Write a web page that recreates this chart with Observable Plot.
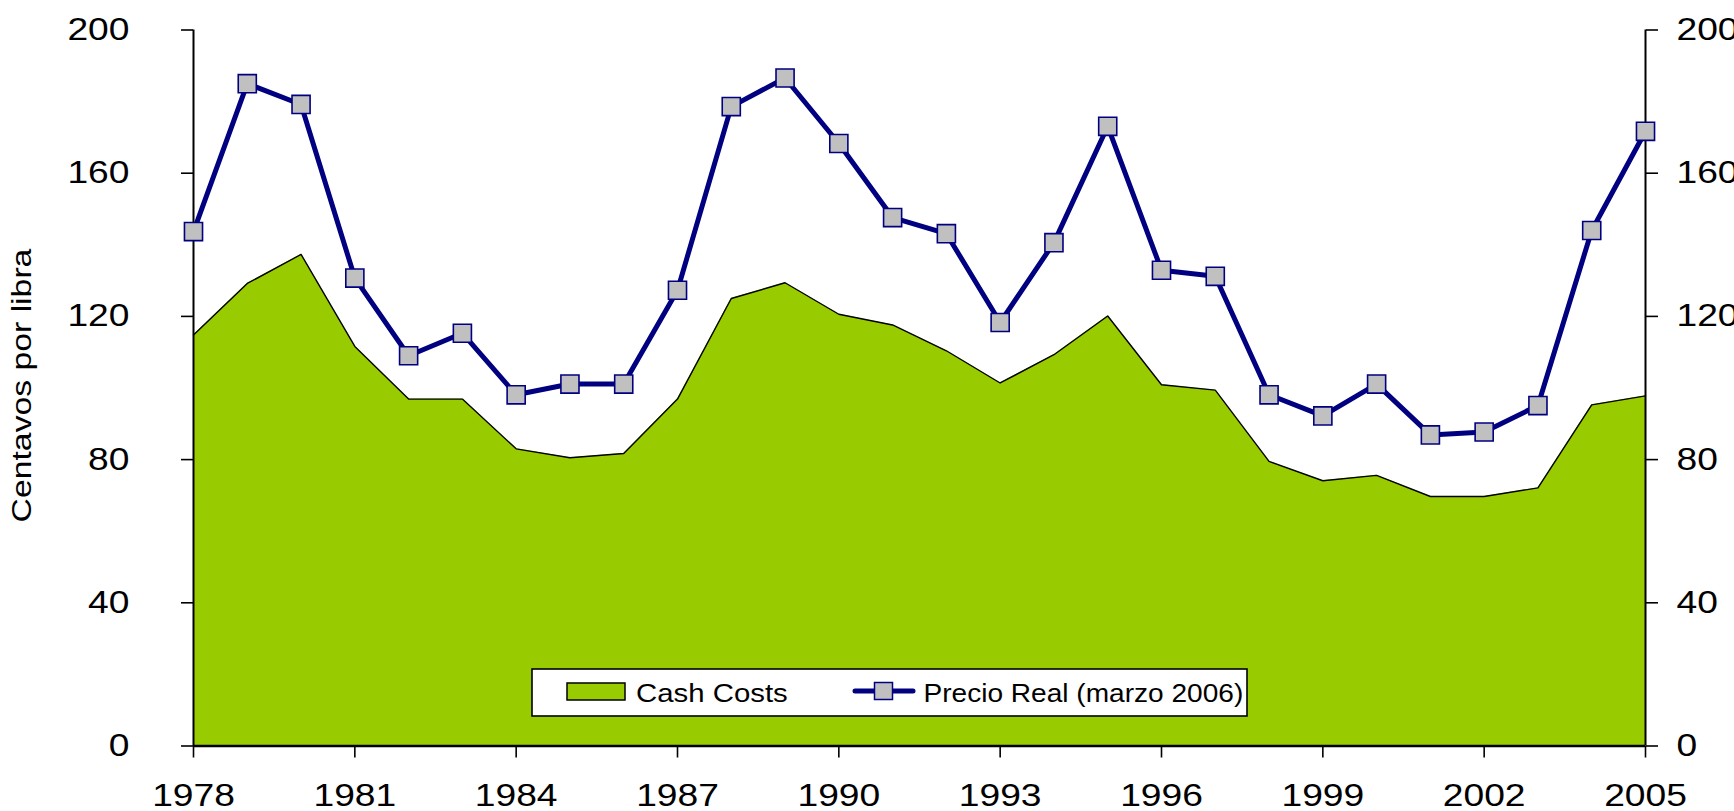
<!DOCTYPE html>
<html>
<head>
<meta charset="utf-8">
<script src="https://cdn.jsdelivr.net/npm/d3@7"></script>
<script src="https://cdn.jsdelivr.net/npm/@observablehq/plot@0.6"></script>
<style>
  html, body { margin: 0; padding: 0; background: #fff; }
  #chart svg { display: block; }
</style>
</head>
<body>
<div id="chart"></div>
<script>
const years = [1978,1979,1980,1981,1982,1983,1984,1985,1986,1987,1988,1989,1990,1991,1992,1993,1994,1995,1996,1997,1998,1999,2000,2001,2002,2003,2004,2005];
const cashCosts = [114.8,129.2,137.3,111.6,96.9,96.9,83.0,80.5,81.7,96.9,125.0,129.4,120.6,117.6,110.4,101.4,109.3,120.1,100.9,99.4,79.5,74.1,75.6,69.7,69.7,72.1,95.3,97.8];
const precioReal = [143.7,185.0,179.2,130.7,109.0,115.3,98.1,101.1,101.1,127.3,178.6,186.6,168.3,147.6,143.1,118.3,140.6,173.1,132.9,131.2,98.1,92.2,101.1,86.9,87.7,95.1,144.0,171.7];
const xTicks = [1978,1981,1984,1987,1990,1993,1996,1999,2002,2005];
const yTicks = [0,40,80,120,160,200];
const yTitle = "Centavos por libra";
const legendLabels = ["Cash Costs", "Precio Real (marzo 2006)"];

const data = years.map((year, i) => ({year, cash: cashCosts[i], price: precioReal[i]}));

const GREEN = "#99CC00", NAVY = "#000080", GREY = "#C0C0C0";
const FONT = "'Liberation Sans', Arial, sans-serif";

const svg = Plot.plot({
  width: 1734,
  height: 811,
  marginLeft: 193,
  marginRight: 89,
  marginTop: 29.5,
  marginBottom: 65.5,
  style: {fontFamily: FONT, fontSize: "31px", color: "#000", background: "#fff", overflow: "visible"},
  x: {domain: [1978, 2005], label: null},
  y: {domain: [0, 200], label: null},
  marks: [
    Plot.areaY(data, {x: "year", y: "cash", fill: GREEN}),
    Plot.line(data, {x: "year", y: "cash", stroke: "#000", strokeWidth: 1.4}),
    Plot.ruleX([1978, 2005], {y1: 0, y2: 200, stroke: "#000", strokeWidth: 2}),
    Plot.ruleY([0], {stroke: "#000", strokeWidth: 2.5}),
    Plot.axisX({ticks: xTicks, tickFormat: d => String(d), tickSize: 12, tickPadding: 26, fontSize: 31, label: null, strokeWidth: 1.6}),
    Plot.axisY({anchor: "left", ticks: yTicks, tickSize: 12, tickPadding: 52, fontSize: 31, label: null, strokeWidth: 1.6}),
    Plot.axisY({anchor: "right", ticks: yTicks, tickSize: 12, tickPadding: 19, fontSize: 31, label: null, strokeWidth: 1.6}),
    Plot.line(data, {x: "year", y: "price", stroke: NAVY, strokeWidth: 5}),
    Plot.dot(data, {x: "year", y: "price", symbol: "square", r: 10.2, fill: GREY, stroke: NAVY, strokeWidth: 1.6})
  ]
});

document.getElementById("chart").appendChild(svg);
const root = d3.select(svg);

// widen axis tick labels horizontally (about their own anchor) to match the reference lettering
root.selectAll("g[aria-label$='tick label'] text").each(function() {
  const t = d3.select(this);
  const tr = t.attr("transform") || "";
  t.attr("transform", (tr + " scale(1.2,1)").trim());
});

// y-axis title
root.append("text")
  .attr("transform", "translate(31,385.5) rotate(-90) scale(1.25,1)")
  .attr("text-anchor", "middle")
  .attr("font-family", FONT)
  .attr("font-size", 27)
  .attr("fill", "#000")
  .text(yTitle);

// legend
const lg = root.append("g").attr("font-family", FONT).attr("font-size", 26).attr("fill", "#000").attr("text-anchor", "start");
lg.append("rect").attr("x", 532).attr("y", 669).attr("width", 715).attr("height", 47)
  .attr("fill", "#fff").attr("stroke", "#000").attr("stroke-width", 1.6);
lg.append("rect").attr("x", 567).attr("y", 683).attr("width", 58).attr("height", 17)
  .attr("fill", GREEN).attr("stroke", "#000").attr("stroke-width", 1.5);
lg.append("text").attr("text-anchor", "start").attr("transform", "translate(636,701.5) scale(1.13,1)").text(legendLabels[0]);
lg.append("line").attr("x1", 855).attr("x2", 913).attr("y1", 691).attr("y2", 691)
  .attr("stroke", NAVY).attr("stroke-width", 5).attr("stroke-linecap", "round");
lg.append("rect").attr("x", 874.5).attr("y", 682.5).attr("width", 18).attr("height", 17)
  .attr("fill", GREY).attr("stroke", NAVY).attr("stroke-width", 1.5);
lg.append("text").attr("text-anchor", "start").attr("transform", "translate(923.5,701.5) scale(1.08,1)").text(legendLabels[1]);
</script>
</body>
</html>
